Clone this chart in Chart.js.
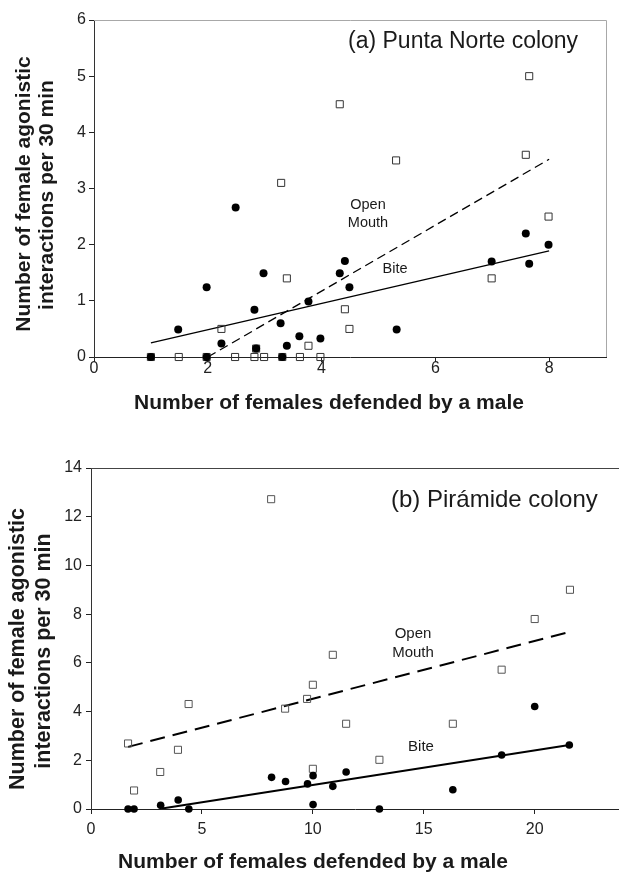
<!DOCTYPE html>
<html><head><meta charset="utf-8">
<script src="https://cdn.jsdelivr.net/npm/chart.js@4"></script>
<style>
html,body{margin:0;padding:0;background:#fff;overflow:hidden}
#wrap{position:relative;width:619px;height:878px}
canvas{position:absolute;left:0}
#ca{top:0;width:619px;height:440px}
#cb{top:440px;width:619px;height:438px}
</style></head><body>
<div id="wrap"><canvas id="ca" width="619" height="440"></canvas><canvas id="cb" width="619" height="438"></canvas></div>
<script>
// ---- Panel (a) Punta Norte ----
const omXA   = [7.65,4.32,3.29,5.31,7.59,7.99,6.99,4.41,4.49,2.24,3.39,3.77,1.00,1.49,1.98,2.48,2.82,2.99,3.31,3.62,3.98,2.85];
const omYA   = [5.00,4.50,3.10,3.50,3.60,2.50,1.40,0.85,0.50,0.50,1.40,0.20,0,0,0,0,0,0,0,0,0,0.15];
const biteXA = [2.49,2.98,1.98,2.82,1.48,2.24,3.28,3.77,3.61,3.39,3.98,4.32,4.41,4.49,5.32,6.99,7.59,7.65,7.99,1.00,1.98,3.31,2.85];
const biteYA = [2.66,1.49,1.24,0.84,0.49,0.24,0.60,0.99,0.37,0.20,0.33,1.49,1.71,1.24,0.49,1.70,2.20,1.66,2.00,0,0,0,0.15];
const biteLineXA = [1.0, 8.0];
const biteLineYA = [0.25, 1.89];
const omLineXA = [2.0, 8.0];
const omLineYA = [0.0, 3.52];
const xTicksA = [0,2,4,6,8];
const yTicksA = [0,1,2,3,4,5,6];

// ---- Panel (b) Pirámide ----
const omXB   = [8.12,21.59,20.0,18.51,16.31,13.0,11.5,10.9,10.0,9.74,8.75,4.4,3.92,1.67,3.12,1.94,10.0];
const omYB   = [12.72,9.0,7.8,5.72,3.5,2.02,3.5,6.33,5.1,4.52,4.12,4.31,2.43,2.69,1.52,0.76,1.65];
const biteXB = [1.67,1.94,3.14,3.93,4.41,8.14,8.77,9.76,10.01,10.01,10.9,11.5,13.0,16.31,18.51,20.0,21.56];
const biteYB = [0,0,0.15,0.37,0,1.30,1.13,1.03,1.37,0.18,0.93,1.52,0,0.79,2.22,4.21,2.63];
const biteLineXB = [3.2, 21.56];
const biteLineYB = [0.02, 2.63];
const omLineXB = [1.67, 21.56];
const omLineYB = [2.55, 7.27];
const xTicksB = [0,5,10,15,20];
const yTicksB = [0,2,4,6,8,10,12,14];

const FONT = '"Liberation Sans", Arial, Helvetica, sans-serif';
const pts = (xs, ys) => xs.map((x,i)=>({x, y: ys[i]}));

function buildChart(id, c) {
  const textPlugin = {
    id: 'txt' + id,
    afterDraw(chart) {
      const ctx = chart.ctx;
      ctx.save();
      c.frame(ctx);
      ctx.fillStyle = '#1a1a1a';
      ctx.textBaseline = 'middle';
      for (const t of c.texts) {
        ctx.font = t.font + ' ' + FONT;
        ctx.textAlign = t.align || 'center';
        if (t.rot) {
          ctx.save();
          ctx.translate(t.x, t.y);
          ctx.rotate(-Math.PI/2);
          ctx.fillText(t.s, 0, 0);
          ctx.restore();
        } else {
          ctx.fillText(t.s, t.x, t.y);
        }
      }
      ctx.restore();
    }
  };
  return new Chart(document.getElementById(id), {
    type: 'scatter',
    data: { datasets: [
      { data: pts(c.biteX, c.biteY), pointStyle: 'circle', pointRadius: c.circR, clip: false,
        backgroundColor: '#000', borderColor: '#000', borderWidth: 0, showLine: false },
      { data: pts(c.omX, c.omY), pointStyle: 'rect', pointRadius: 5, clip: false,
        backgroundColor: 'rgba(0,0,0,0)', borderColor: c.sqColor, borderWidth: 1, showLine: false },
      { data: pts(c.blX, c.blY), showLine: true, pointRadius: 0, borderColor: '#000',
        borderWidth: c.lw, fill: false },
      { data: pts(c.olX, c.olY), showLine: true, pointRadius: 0, borderColor: '#000',
        borderWidth: c.lw, borderDash: c.dash, fill: false }
    ]},
    options: {
      responsive: false, animation: false, events: [],
      devicePixelRatio: 1,
      layout: { padding: c.pad, autoPadding: false },
      plugins: { legend: { display: false }, tooltip: { enabled: false } },
      scales: {
        x: {
          type: 'linear', min: 0, max: c.xMax,
          afterBuildTicks: s => { s.ticks = c.xTicks.map(v => ({value: v})); },
          afterFit: s => { s.height = c.xH; },
          grid: { drawOnChartArea: false, drawTicks: true, tickLength: 5, color: '#222' },
          border: { display: true, color: '#222', width: 1 },
          ticks: { font: { family: FONT, size: 16 }, color: '#222', padding: c.xPad, maxRotation: 0 }
        },
        y: {
          type: 'linear', min: 0, max: c.yMax,
          afterBuildTicks: s => { s.ticks = c.yTicks.map(v => ({value: v})); },
          afterFit: s => { s.width = c.yW; },
          grid: { drawOnChartArea: false, drawTicks: true, tickLength: 5, color: '#222' },
          border: { display: true, color: '#333', width: 1 },
          ticks: { font: { family: FONT, size: 16 }, color: '#222', padding: c.yPad }
        }
      }
    },
    plugins: [textPlugin]
  });
}

buildChart('ca', {
  omX: omXA, omY: omYA, biteX: biteXA, biteY: biteYA,
  blX: biteLineXA, blY: biteLineYA, olX: omLineXA, olY: omLineYA,
  xTicks: xTicksA, yTicks: yTicksA, xMax: 9, yMax: 6,
  pad: { top: 20, right: 13, left: 0, bottom: 0 }, xH: 83, yW: 94,
  xPad: -3, yPad: 3, circR: 4, sqColor: '#333', lw: 1.3, dash: [9, 5],
  frame(ctx) {
    ctx.strokeStyle = '#a8a8a8'; ctx.lineWidth = 1;
    ctx.beginPath(); ctx.moveTo(94, 20.5); ctx.lineTo(606.5, 20.5); ctx.lineTo(606.5, 357); ctx.stroke();
  },
  texts: [
    { s: '(a) Punta Norte colony', x: 348, y: 42, font: '23px', align: 'left' },
    { s: 'Open', x: 368, y: 205, font: '14.5px' },
    { s: 'Mouth', x: 368, y: 223, font: '14.5px' },
    { s: 'Bite', x: 395, y: 269, font: '14.5px' },
    { s: 'Number of females defended by a male', x: 329, y: 403, font: 'bold 21px' },
    { s: 'Number of female agonistic', x: 24, y: 194, font: 'bold 21px', rot: true },
    { s: 'interactions per 30 min', x: 47, y: 195, font: 'bold 21px', rot: true }
  ]
});

buildChart('cb', {
  omX: omXB, omY: omYB, biteX: biteXB, biteY: biteYB,
  blX: biteLineXB, blY: biteLineYB, olX: omLineXB, olY: omLineYB,
  xTicks: xTicksB, yTicks: yTicksB, xMax: 23.8, yMax: 14,
  pad: { top: 28, right: 0, left: 0, bottom: 0 }, xH: 69, yW: 91,
  xPad: 6, yPad: 4, circR: 3.8, sqColor: '#555', lw: 2, dash: [15, 8],
  frame(ctx) {
    ctx.strokeStyle = '#444'; ctx.lineWidth = 1;
    ctx.beginPath(); ctx.moveTo(91, 28.5); ctx.lineTo(619, 28.5); ctx.stroke();
  },
  texts: [
    { s: '(b) Pirámide colony', x: 391, y: 60, font: '24px', align: 'left' },
    { s: 'Open', x: 413, y: 194, font: '15px' },
    { s: 'Mouth', x: 413, y: 213, font: '15px' },
    { s: 'Bite', x: 421, y: 307, font: '15px' },
    { s: 'Number of females defended by a male', x: 313, y: 422, font: 'bold 21px' },
    { s: 'Number of female agonistic', x: 18, y: 209, font: 'bold 21.5px', rot: true },
    { s: 'interactions per 30 min', x: 44, y: 211, font: 'bold 21.5px', rot: true }
  ]
});
</script>
</body></html>
